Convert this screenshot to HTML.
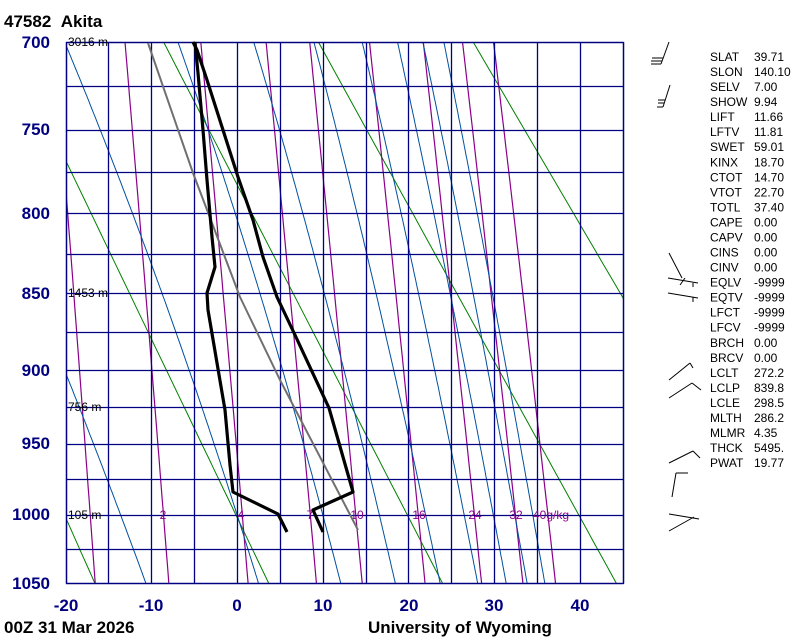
<!DOCTYPE html>
<html><head><meta charset="utf-8">
<style>
html,body{margin:0;padding:0;background:#fff;}
body{width:800px;height:640px;overflow:hidden;position:relative;font-family:"Liberation Sans",sans-serif;}
svg{position:absolute;left:0;top:0;}
</style></head><body>
<svg id="s" width="800" height="640" xmlns="http://www.w3.org/2000/svg" font-family="Liberation Sans, sans-serif">
<g id="bg"></g>
<g fill="#000080" font-weight="bold" font-size="17" text-anchor="end">
<text x="50" y="48">700</text><text x="50" y="135">750</text><text x="50" y="219">800</text>
<text x="50" y="299">850</text><text x="50" y="376">900</text><text x="50" y="449">950</text>
<text x="50" y="520">1000</text><text x="50" y="589">1050</text>
</g>
<g fill="#000080" font-weight="bold" font-size="17" text-anchor="middle">
<text x="66" y="611">-20</text><text x="151" y="611">-10</text><text x="237" y="611">0</text>
<text x="323" y="611">10</text><text x="409" y="611">20</text><text x="494" y="611">30</text><text x="580" y="611">40</text>
</g>
<text x="4" y="27" font-size="17" font-weight="bold">47582&#160;&#160;Akita</text>
<text x="4" y="633" font-size="17" font-weight="bold">00Z 31 Mar 2026</text>
<text x="368" y="633" font-size="17" font-weight="bold">University of Wyoming</text>
<g font-size="12" fill="#000">
<text x="68" y="46">3016 m</text><text x="68" y="297">1453 m</text>
<text x="68" y="411">756 m</text><text x="68" y="519">105 m</text>
</g>
<g font-size="12" fill="#8b008b" text-anchor="middle">
<text x="163" y="519">2</text><text x="241" y="519">4</text><text x="310" y="519">7</text>
<text x="357" y="519">10</text><text x="419" y="519">16</text><text x="475" y="519">24</text>
<text x="516" y="519">32</text><text x="551" y="519">40g/kg</text>
</g>
<g font-size="12" fill="#000" id="idx"></g>
<g stroke="#000" stroke-width="1" fill="none">
<polyline points="669,42 661,64"/><line x1="652" y1="58" x2="663" y2="58"/><line x1="651" y1="61" x2="662" y2="61"/><line x1="651" y1="64" x2="661" y2="64"/>
<polyline points="670,85 663,107"/><line x1="658" y1="100" x2="665" y2="100"/><line x1="658" y1="103" x2="664" y2="103"/><line x1="657" y1="107" x2="663" y2="107"/>
<polyline points="669,253 682,278"/><line x1="668" y1="278" x2="698" y2="283"/><line x1="680" y1="285" x2="685" y2="278"/><line x1="693" y1="283" x2="693" y2="287"/>
<line x1="668" y1="293" x2="698" y2="298"/><line x1="693" y1="297" x2="693" y2="302"/>
<line x1="669" y1="380" x2="690" y2="363"/><line x1="690" y1="363" x2="693" y2="368"/>
<line x1="669" y1="398" x2="692" y2="383"/><line x1="692" y1="383" x2="701" y2="390"/>
<line x1="669" y1="463" x2="693" y2="451"/><line x1="693" y1="451" x2="700" y2="458"/>
<line x1="672" y1="497" x2="676" y2="473"/><line x1="676" y1="473" x2="688" y2="473"/>
<line x1="669" y1="514" x2="699" y2="519"/><line x1="669" y1="531" x2="694" y2="517"/>
</g>
<g id="fg"></g>
</svg>
<script>
(function(){
var NS="http://www.w3.org/2000/svg";
var bg=document.getElementById('bg'),fg=document.getElementById('fg');
var X7=Math.pow(700,0.286),X10=Math.pow(1050,0.286);
function Y(p){return 42+(Math.pow(p,0.286)-X7)/(X10-X7)*541;}
function Xt(t){return 237+t*8.57;}
function el(par,tag,a){var e=document.createElementNS(NS,tag);for(var k in a)e.setAttribute(k,a[k]);par.appendChild(e);return e;}
var cp=el(bg,'clipPath',{id:'c'});el(cp,'rect',{x:66,y:42,width:557,height:541});
var g=el(bg,'g',{'clip-path':'url(#c)'});
function line(pts,col,w){el(g,'polyline',{points:pts.map(function(q){return q[0].toFixed(1)+','+q[1].toFixed(1)}).join(' '),fill:'none',stroke:col,'stroke-width':w});}
var ps=[700,725,750,775,800,825,850,875,900,925,950,975,1000,1025,1050];
ps.forEach(function(p){var y=Math.round(Y(p))+0.5;el(bg,'line',{x1:66,y1:y,x2:623,y2:y,stroke:'#000080','stroke-width':1.3});});
for(var t=-20;t<=45;t+=5){var x=Math.round(Xt(t))+0.5;el(bg,'line',{x1:x,y1:42,x2:x,y2:583,stroke:'#000080','stroke-width':1.3});}
for(var th=213;th<=400;th+=20){var pts=[];for(var p=690;p<=1060;p+=10){pts.push([Xt(th*Math.pow(p/1000,0.286)-273.15),Y(p)]);}line(pts,'#008000',1);}
function tdw(w,p){var e=w*p/(622+w);var l=Math.log(e/6.112);return 243.5*l/(17.67-l);}
[1,2,4,7,10,16,24,32,40].forEach(function(w){var pts=[];for(var p=690;p<=1060;p+=10)pts.push([Xt(tdw(w,p)),Y(p)]);line(pts,'#8b008b',1.2);});
function es(T){return 6.112*Math.exp(17.67*(T-273.15)/(T-29.65));}
function dTdp(T,p){var e=es(T),rs=0.622*e/(p-e),L=2.5e6,Rd=287,cpd=1005;return (Rd*T+L*rs)/(p*(cpd+L*L*rs*0.622/(Rd*T*T)));}
function moist(t0){var T=t0+273.15,p=1000,dp=2;var up=[];while(p>=688){up.push([Xt(T-273.15),Y(p)]);T-=dTdp(T,p)*dp;p-=dp;}
 T=t0+273.15;p=1000;var dn=[];while(p<=1062){dn.push([Xt(T-273.15),Y(p)]);T+=dTdp(T,p)*dp;p+=dp;}
 return up.reverse().concat(dn);}
[-13.6,0,10,16.6,22,26.5,29.9,32.4,34.5].forEach(function(t){line(moist(t),'#0050a0',1);});
el(bg,'rect',{x:66.5,y:42.5,width:557,height:541,fill:'none',stroke:'#000080','stroke-width':1.3});
function pl(s,col,w){el(fg,'polyline',{points:s,fill:'none',stroke:col,'stroke-width':w,'stroke-linejoin':'round'});}
pl('148,43 193,173 212,223 240,297 280,380 358,530','#707070',2);
pl('193,42 197,50 207,80 223,130 238,177 253,220 263,257 277,297 295,335 329,408 353,492 313,510 323,532','#000',3.2);
pl('195,42 198,73 203,130 207,180 212,237 215,267 207,293 208,310 225,410 230,465 233,492 278,514 287,532','#000',3.2);
var idx=[["SLAT","39.71"],["SLON","140.10"],["SELV","7.00"],["SHOW","9.94"],["LIFT","11.66"],["LFTV","11.81"],["SWET","59.01"],["KINX","18.70"],["CTOT","14.70"],["VTOT","22.70"],["TOTL","37.40"],["CAPE","0.00"],["CAPV","0.00"],["CINS","0.00"],["CINV","0.00"],["EQLV","-9999"],["EQTV","-9999"],["LFCT","-9999"],["LFCV","-9999"],["BRCH","0.00"],["BRCV","0.00"],["LCLT","272.2"],["LCLP","839.8"],["LCLE","298.5"],["MLTH","286.2"],["MLMR","4.35"],["THCK","5495."],["PWAT","19.77"]];
var ig=document.getElementById('idx');
idx.forEach(function(r,i){var y=61+i*15.04;var a=el(ig,'text',{x:710,y:y.toFixed(1)});a.textContent=r[0];var b=el(ig,'text',{x:754,y:y.toFixed(1)});b.textContent=r[1];});
})();
</script>
</body></html>
